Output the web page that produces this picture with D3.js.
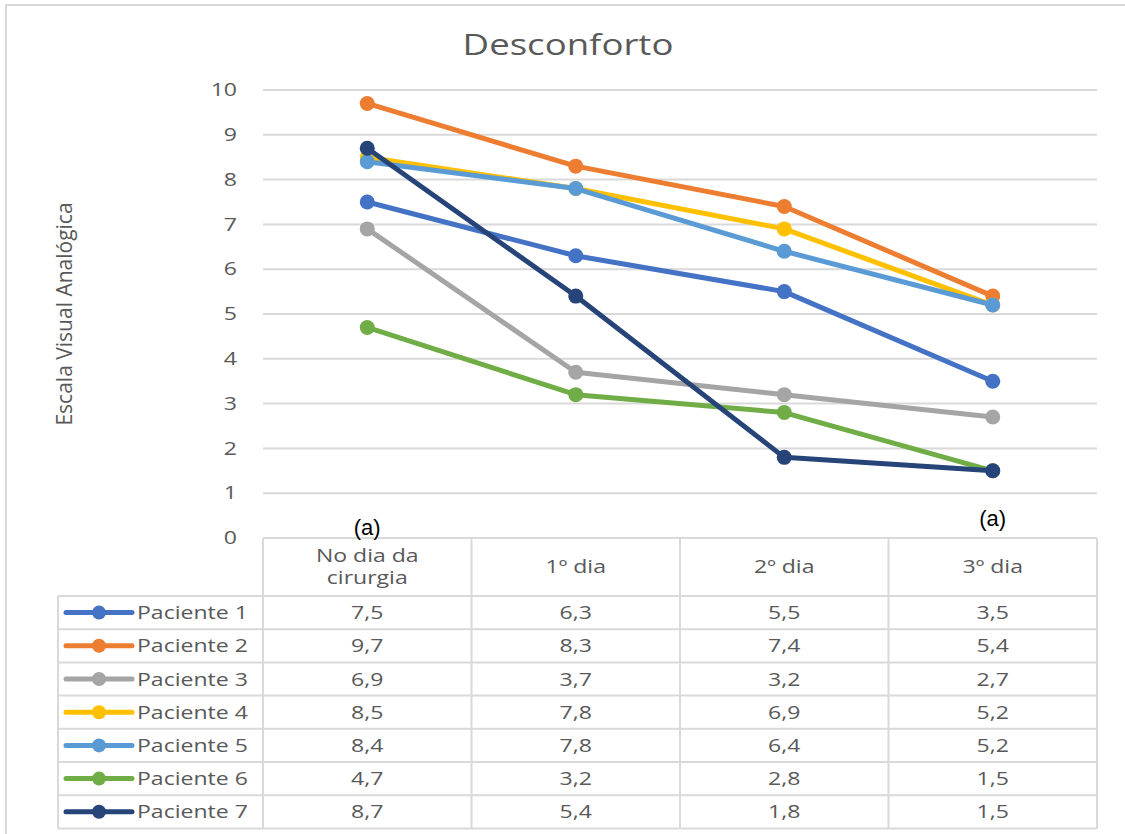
<!DOCTYPE html>
<html>
<head>
<meta charset="utf-8">
<script src="https://cdn.jsdelivr.net/npm/d3@7"></script>
<style>
  html, body { margin: 0; padding: 0; background: #fff; }
  svg { display: block; }
</style>
</head>
<body>
<svg id="chart" width="1125" height="834"></svg>
<script>
// Days of follow-up (table header / x categories)
const categories = ["No dia da cirurgia", "1º dia", "2º dia", "3º dia"];
const headerLines = [["No dia da", "cirurgia"], ["1º dia"], ["2º dia"], ["3º dia"]];

// Patient names and pain scores (EVA) per day
const patients = ["Paciente 1", "Paciente 2", "Paciente 3", "Paciente 4", "Paciente 5", "Paciente 6", "Paciente 7"];
const paciente1 = [7.5, 6.3, 5.5, 3.5];
const paciente2 = [9.7, 8.3, 7.4, 5.4];
const paciente3 = [6.9, 3.7, 3.2, 2.7];
const paciente4 = [8.5, 7.8, 6.9, 5.2];
const paciente5 = [8.4, 7.8, 6.4, 5.2];
const paciente6 = [4.7, 3.2, 2.8, 1.5];
const paciente7 = [8.7, 5.4, 1.8, 1.5];
const seriesValues = [paciente1, paciente2, paciente3, paciente4, paciente5, paciente6, paciente7];
const colors = ["#4472C4", "#ED7D31", "#A5A5A5", "#FFC000", "#5B9BD5", "#70AD47", "#264478"];

const yTicks = [0, 1, 2, 3, 4, 5, 6, 7, 8, 9, 10];
const noteLabels = [{ cat: 0, text: "(a)", dy: 0 }, { cat: 3, text: "(a)", dy: -9 }];

const svg = d3.select("#chart");
const font = "'Open Sans', 'Noto Sans', sans-serif";
const textGray = "#595959";
const gridGray = "#d9d9d9";
const wide = 1.28; // horizontal stretch of the chart's body text

// Plot geometry
const plotLeft = 263, plotRight = 1097;
const y0 = 538, yTop = 90;
const headerH = 58, rowH = 33.2;
const legendLeft = 58;

const x = d3.scaleBand().domain(d3.range(categories.length)).range([plotLeft, plotRight]).padding(0);
const cx = i => x(i) + x.bandwidth() / 2;
const y = d3.scaleLinear().domain([0, 10]).range([y0, yTop]);

// Text placed at (px, py), stretched horizontally
function label(px, py, str, anchor, size, sx) {
  return svg.append("text")
    .attr("transform", `translate(${px},${py}) scale(${sx},1)`)
    .attr("text-anchor", anchor)
    .attr("font-family", font).attr("font-size", size)
    .attr("fill", textGray)
    .text(str);
}

// Outer frame (left and top edges)
svg.append("path")
  .attr("d", `M6,834 V5 H1125`)
  .attr("fill", "none").attr("stroke", gridGray).attr("stroke-width", 2);

// Title
label(568, 55, "Desconforto", "middle", 30, 1.22);

// Y axis title
svg.append("text")
  .attr("transform", "translate(72,314) rotate(-90)")
  .attr("text-anchor", "middle")
  .attr("font-family", "'Liberation Sans Narrow', 'Open Sans', sans-serif")
  .attr("font-size", 21)
  .attr("fill", textGray)
  .text("Escala Visual Analógica");

// Gridlines (skip 0, which is the table top)
svg.append("g").selectAll("line")
  .data(yTicks.filter(d => d > 0))
  .join("line")
  .attr("x1", plotLeft).attr("x2", plotRight)
  .attr("y1", d => y(d)).attr("y2", d => y(d))
  .attr("stroke", gridGray).attr("stroke-width", 2);

// Y tick labels
const yAxis = d3.axisLeft(y).tickValues(yTicks).tickSize(0).tickPadding(0);
const yg = svg.append("g").attr("transform", `translate(237,0)`).call(yAxis);
yg.select(".domain").remove();
yg.selectAll("text")
  .attr("x", 0)
  .attr("transform", `scale(${wide},1)`)
  .attr("font-family", font).attr("font-size", 18)
  .attr("fill", textGray);

// Data table
const tableBottom = y0 + headerH + rowH * patients.length;
const tg = svg.append("g").attr("stroke", gridGray).attr("stroke-width", 2).attr("fill", "none");
// horizontal rules
tg.append("line").attr("x1", plotLeft).attr("x2", plotRight).attr("y1", y0).attr("y2", y0);
d3.range(patients.length + 1).forEach(i => {
  const yy = y0 + headerH + rowH * i;
  tg.append("line").attr("x1", legendLeft).attr("x2", plotRight).attr("y1", yy).attr("y2", yy);
});
// vertical rules
tg.append("line").attr("x1", legendLeft).attr("x2", legendLeft).attr("y1", y0 + headerH).attr("y2", tableBottom);
d3.range(categories.length + 1).forEach(i => {
  const xx = plotLeft + x.bandwidth() * i;
  tg.append("line").attr("x1", xx).attr("x2", xx).attr("y1", y0).attr("y2", tableBottom);
});

// Header labels
headerLines.forEach((lines, i) => {
  const startY = y0 + headerH / 2 - (lines.length - 1) * 11 + 6;
  lines.forEach((ln, k) => label(cx(i), startY + k * 22, ln, "middle", 18, wide));
});

// Rows: legend key + values
const fmt = v => d3.format(".1f")(v).replace(".", ",");
patients.forEach((name, r) => {
  const rowMid = y0 + headerH + rowH * r + rowH / 2;
  svg.append("line")
    .attr("x1", 66).attr("x2", 132).attr("y1", rowMid).attr("y2", rowMid)
    .attr("stroke", colors[r]).attr("stroke-width", 5).attr("stroke-linecap", "round");
  svg.append("circle").attr("cx", 99).attr("cy", rowMid).attr("r", 7).attr("fill", colors[r]);
  label(137, rowMid + 6.5, name, "start", 18, wide);
  seriesValues[r].forEach((v, c) => label(cx(c), rowMid + 6.5, fmt(v), "middle", 18, wide));
});

// Lines and markers, series 1 drawn first
const line = d3.line().x((d, i) => cx(i)).y(d => y(d));
seriesValues.forEach((vals, s) => {
  const g = svg.append("g");
  g.append("path")
    .attr("d", line(vals))
    .attr("fill", "none").attr("stroke", colors[s])
    .attr("stroke-width", 5).attr("stroke-linejoin", "round").attr("stroke-linecap", "round");
  g.selectAll("circle").data(vals).join("circle")
    .attr("cx", (d, i) => cx(i)).attr("cy", d => y(d)).attr("r", 7.5)
    .attr("fill", colors[s]);
});

// Notes above the first and last columns
svg.selectAll("text.note").data(noteLabels).join("text")
  .attr("class", "note")
  .attr("x", d => cx(d.cat)).attr("y", d => 535 + d.dy)
  .attr("text-anchor", "middle")
  .attr("font-family", "'Liberation Sans', Arial, sans-serif")
  .attr("font-size", 22)
  .attr("fill", "#000")
  .text(d => d.text);
</script>
</body>
</html>
